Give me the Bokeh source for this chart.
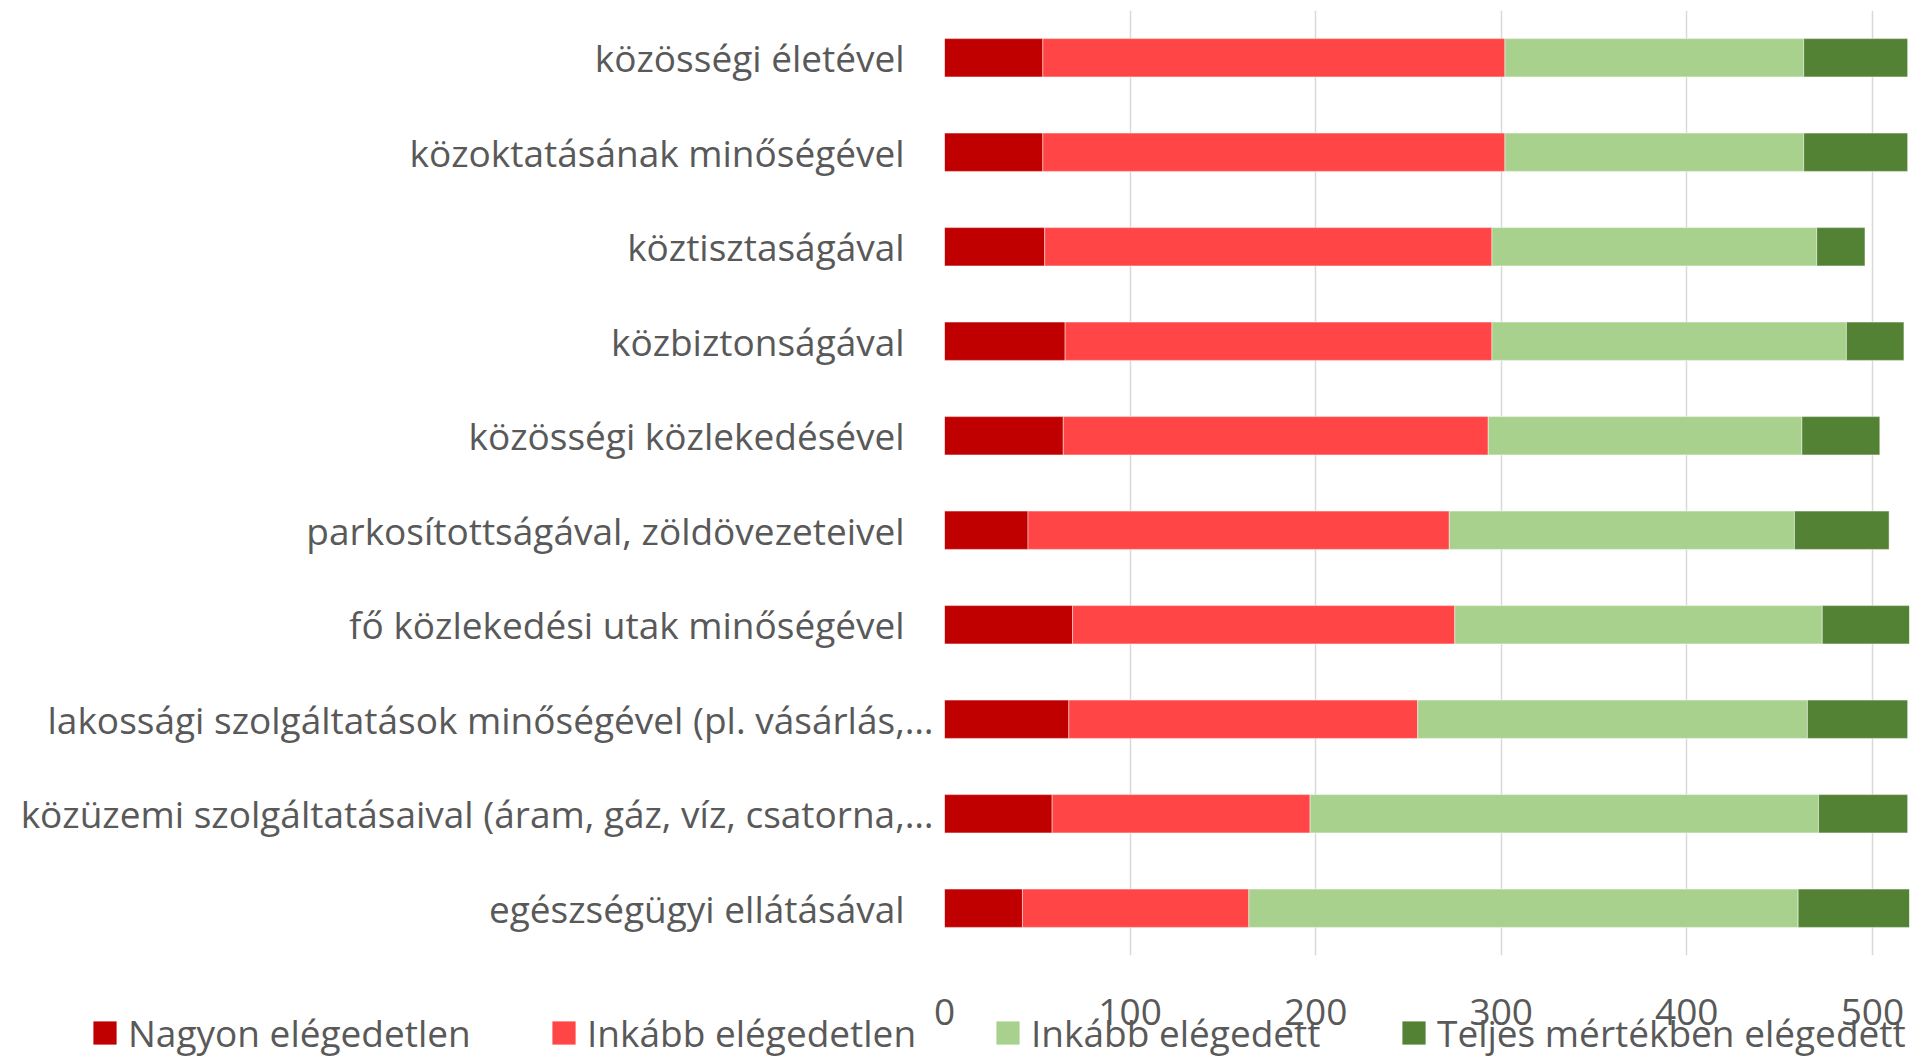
from bokeh.plotting import figure
from bokeh.layouts import column
from bokeh.models import ColumnDataSource, Range1d, FactorRange, FixedTicker, Legend, LegendItem
from bokeh.core.properties import value
from bokeh.embed import file_html
from bokeh.resources import INLINE

# Categories, top to bottom as in the reference
categories = [
    "közösségi életével",
    "közoktatásának minőségével",
    "köztisztaságával",
    "közbiztonságával",
    "közösségi közlekedésével",
    "parkosítottságával, zöldövezeteivel",
    "fő közlekedési utak minőségével",
    "lakossági szolgáltatások minőségével (pl. vásárlás,…",
    "közüzemi szolgáltatásaival (áram, gáz, víz, csatorna,…",
    "egészségügyi ellátásával",
]

nagyon_elegedetlen = [53, 53, 54, 65, 64, 45, 69, 67, 58, 42]
inkabb_elegedetlen = [249, 249, 241, 230, 229, 227, 206, 188, 139, 122]
inkabb_elegedett = [161, 161, 175, 191, 169, 186, 198, 210, 274, 296]
teljes_elegedett = [56, 56, 26, 31, 42, 51, 47, 54, 48, 60]

series_keys = ["s1", "s2", "s3", "s4"]
series_labels = ["Nagyon elégedetlen", "Inkább elégedetlen", "Inkább elégedett", "Teljes mértékben elégedett"]
series_colors = ["#C00000", "#FF4545", "#A9D18E", "#548235"]

x_ticks = [0, 100, 200, 300, 400, 500]

# labels in the source carry trailing spaces (the truncated ones end in an ellipsis)
def shown(c):
    return c if c.endswith("…") else c + "\u00a0\u00a0\u00a0\u200b"

factors = [shown(c) for c in categories]

source = ColumnDataSource(dict(
    cat=factors,
    s1=nagyon_elegedetlen,
    s2=inkabb_elegedetlen,
    s3=inkabb_elegedett,
    s4=teljes_elegedett,
))

TEXT = "#595959"
FONT = "Open Sans"
W, H = 1919, 1058

# ---------------- main chart ----------------
p = figure(
    width=W, height=H,
    y_range=FactorRange(factors=list(reversed(factors)), range_padding=0),
    x_range=Range1d(0, 520),
    output_backend="svg", toolbar_location=None,
    min_border_left=944, min_border_right=10, min_border_top=10, min_border_bottom=103,
)
p.outline_line_color = None
p.background_fill_color = "white"
p.border_fill_color = "white"

p.hbar_stack(series_keys, y="cat", height=0.405, color=series_colors, source=source,
             line_color="white", line_alpha=0.45, line_width=1)

p.xaxis.ticker = FixedTicker(ticks=x_ticks)
p.xaxis.axis_line_color = None
p.xaxis.major_tick_line_color = None
p.xaxis.minor_tick_line_color = None
p.xaxis.major_tick_out = 0
p.xaxis.major_tick_in = 0
p.xaxis.major_label_standoff = 43
p.xaxis.major_label_text_font = FONT
p.xaxis.major_label_text_font_size = "37px"
p.xaxis.major_label_text_color = TEXT

p.yaxis.axis_line_color = None
p.yaxis.major_tick_line_color = None
p.yaxis.minor_tick_line_color = None
p.yaxis.major_tick_out = 0
p.yaxis.major_tick_in = 0
p.yaxis.major_label_standoff = 11
p.yaxis.major_label_text_font = FONT
p.yaxis.major_label_text_font_size = "37px"
p.yaxis.major_label_text_color = TEXT

p.ygrid.grid_line_color = None
p.xgrid.grid_line_color = "#D9D9D9"
p.xgrid.grid_line_width = 1.5

# ---------------- legend strip (overlaps the bottom of the chart) ----------------
LEG_H = 58
lf = figure(
    width=W, height=LEG_H,
    x_range=Range1d(0, 1), y_range=Range1d(0, 1),
    x_axis_location=None, y_axis_location=None,
    output_backend="svg", toolbar_location=None,
    min_border_left=0, min_border_right=0, min_border_top=0, min_border_bottom=0,
    styles={"margin-top": f"-{LEG_H}px"},
)
for fig in (p, lf):
    if "frame_align" in fig.properties():
        fig.frame_align = False
lf.outline_line_color = None
lf.background_fill_alpha = 0
lf.border_fill_alpha = 0
lf.xgrid.visible = False
lf.ygrid.visible = False

# zero-length, off-view bars: only used as legend swatches
legend_source = ColumnDataSource(dict(cat=[5.0], s1=[0], s2=[0], s3=[0], s4=[0]))
legend_renderers = lf.hbar_stack(series_keys, y="cat", height=0.4, color=series_colors,
                                 source=legend_source, line_alpha=0)

legend_x = [90, 549, 993, 1399]
for i, (r, lab) in enumerate(zip(legend_renderers, series_labels)):
    leg = Legend(
        items=[LegendItem(label=value(lab), renderers=[r])],
        orientation="horizontal",
        location=(legend_x[i], 0),
        padding=0, margin=0, spacing=0,
        label_standoff=9, glyph_width=29, glyph_height=29,
        border_line_color=None, background_fill_alpha=0,
        label_text_font=FONT, label_text_font_size="37px", label_text_color=TEXT,
    )
    lf.add_layout(leg, "center")

layout = column(p, lf, spacing=0)

open("out.html", "w").write(file_html(layout, INLINE))
